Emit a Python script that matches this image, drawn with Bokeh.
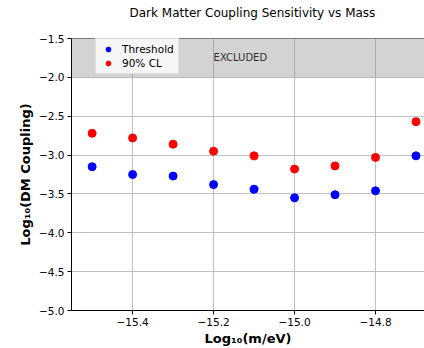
from bokeh.plotting import figure
from bokeh.models import (ColumnDataSource, BoxAnnotation, Span, FixedTicker,
                          CustomJSTickFormatter, Title)
from bokeh.core.properties import value
from bokeh.embed import file_html
from bokeh.resources import INLINE

# ---- data ----
log_mass = [-15.5, -15.4, -15.3, -15.2, -15.1, -15.0, -14.9, -14.8, -14.7]
threshold = [-3.15, -3.25, -3.27, -3.38, -3.44, -3.55, -3.51, -3.46, -3.01]
cl90 = [-2.72, -2.78, -2.86, -2.95, -3.01, -3.18, -3.14, -3.03, -2.57]
x_ticks = [-15.4, -15.2, -15.0, -14.8]
y_ticks = [-5.0, -4.5, -4.0, -3.5, -3.0, -2.5, -2.0, -1.5]
excluded_bottom = -2.0
excluded_top = -1.5
excluded_label = "EXCLUDED"
excluded_label_pos = (-15.2, -1.75)
title_text = "Dark Matter Coupling Sensitivity vs Mass"

FONT = "DejaVu Sans"

p = figure(width=424, height=348, output_backend="svg", toolbar_location=None,
           x_range=(-15.551, -14.679), y_range=(-5.0, -1.5),
           min_border_left=71, min_border_right=0, min_border_top=38,
           min_border_bottom=0)

p.outline_line_color = None
p.background_fill_color = "white"

# spacer panel next to the frame, then the title further out
p.add_layout(Title(text=" ", text_font=FONT, text_font_size="10px", standoff=4), "above")
p.add_layout(Title(text=title_text, text_font=FONT, text_font_size="12px",
                   text_font_style="normal", text_color="#000000",
                   align="left", offset=58, standoff=4), "above")

# excluded band
p.add_layout(BoxAnnotation(bottom=excluded_bottom, top=excluded_top,
                           fill_color="gray", fill_alpha=0.35, line_color=None))
p.add_layout(Span(location=excluded_top, dimension="width",
                  line_color="#000000", line_width=1))

src_t = ColumnDataSource(dict(x=log_mass, y=threshold))
src_c = ColumnDataSource(dict(x=log_mass, y=cl90))
p.scatter("x", "y", source=src_t, size=8, color="blue", legend_label="Threshold")
p.scatter("x", "y", source=src_c, size=8, color="red", legend_label="90% CL")

p.text(x=[excluded_label_pos[0]], y=[excluded_label_pos[1]], text=[excluded_label],
       text_font=value(FONT), text_font_size="10px", text_baseline="middle",
       text_align="left", text_color="#000000")

fmt = CustomJSTickFormatter(code="""
const s = Math.abs(tick).toFixed(1);
return (tick < -1e-9 ? "\\u2212" : "") + s;
""")

for ax in (p.xaxis[0], p.yaxis[0]):
    ax.formatter = fmt
    ax.major_label_text_font = FONT
    ax.major_label_text_font_size = "10.5px"
    ax.major_label_text_color = "#000000"
    ax.axis_label_text_font = FONT
    ax.axis_label_text_font_size = "13px"
    ax.axis_label_text_font_style = "bold"
    ax.axis_label_text_color = "#000000"
    ax.axis_line_color = "#000000"
    ax.major_tick_line_color = "#000000"
    ax.major_tick_out = 4
    ax.major_tick_in = 0
    ax.minor_tick_line_color = None
    ax.major_label_standoff = 3

p.xaxis.ticker = FixedTicker(ticks=x_ticks)
p.yaxis.ticker = FixedTicker(ticks=y_ticks)
p.xaxis.axis_label = "Log\u2081\u2080(m/eV)"
p.yaxis.axis_label = "Log\u2081\u2080(DM Coupling)"
p.xaxis.axis_label_standoff = 2
p.yaxis.axis_label_standoff = 3

p.xgrid.ticker = FixedTicker(ticks=x_ticks)
p.ygrid.ticker = FixedTicker(ticks=y_ticks)
p.grid.grid_line_color = "#b0b0b0"
p.grid.grid_line_width = 0.8

lg = p.legend[0]
lg.location = (24, 236)
lg.label_text_font = FONT
lg.label_text_font_size = "10.5px"
lg.label_text_color = "#000000"
lg.label_height = 12
lg.glyph_height = 12
lg.glyph_width = 16
lg.label_standoff = 6
lg.spacing = 2
lg.padding = 4
lg.margin = 0
lg.border_line_color = "#cccccc"
lg.background_fill_alpha = 0.8

open("out.html", "w").write(file_html(p, INLINE))
